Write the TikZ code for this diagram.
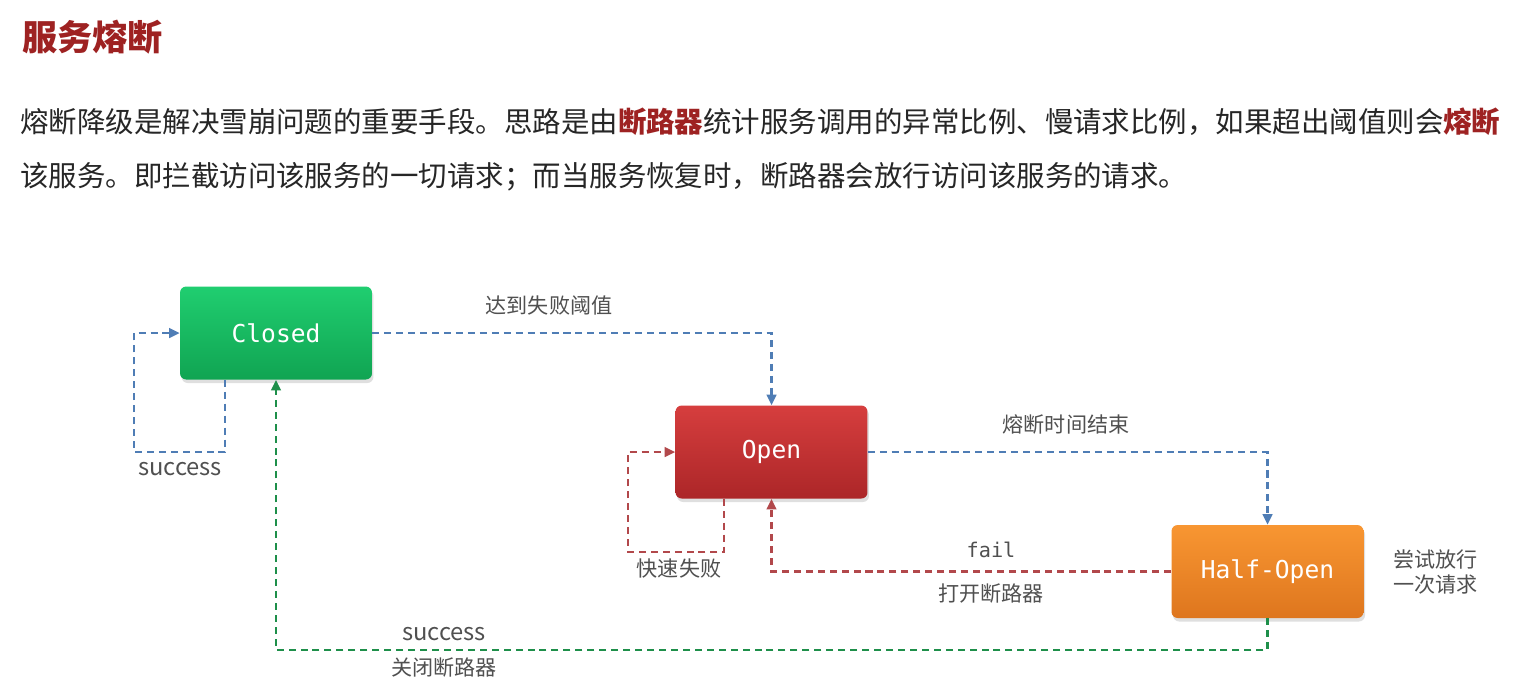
\documentclass[tikz,border=0pt]{standalone}
\usepackage{fontspec}
\setmainfont{Noto Sans CJK SC}
\setmonofont{DejaVu Sans Mono}
\usetikzlibrary{arrows.meta,shadows}

\definecolor{titlered}{RGB}{158,34,34}
\definecolor{bodytext}{RGB}{38,38,38}
\definecolor{labelgray}{RGB}{80,80,80}
\definecolor{linkblue}{RGB}{79,125,181}
\definecolor{linkred}{RGB}{178,72,75}
\definecolor{linkgreen}{RGB}{30,143,74}
\newcommand{\redword}[1]{{\bfseries\color{titlered}#1}}

\tikzset{link/.style={dash pattern=on 4pt off 2.8pt, line width=1.3pt, -{Triangle[length=6pt,width=5.5pt]}}}
\tikzset{bluelink/.style={link, draw=linkblue}}
\tikzset{redlink/.style={link, draw=linkred}}
\tikzset{greenlink/.style={link, draw=linkgreen}}
\tikzset{edgelabel/.style={text=labelgray, font=\fontsize{12}{14.7}\selectfont}}

\begin{document}
\begin{tikzpicture}[x=0.02cm, y=-0.02cm]
	\useasboundingbox[fill=white] (0,0) rectangle (1533,697);

	% Default action for each state
	\tikzstyle{state}=[rounded corners=3.5pt, minimum width=3.84cm, minimum height=1.86cm, inner sep=0pt,
		text=white, font=\ttfamily\fontsize{14}{16}\selectfont,
		drop shadow={opacity=0.25, shadow xshift=0.03cm, shadow yshift=-0.07cm}];

	% Heading and text
	\node[anchor=west, text=titlered, font=\fontsize{20}{22}\selectfont\bfseries] (title) at (16,37) {服务熔断};
	\node[anchor=west, inner sep=0pt, text=bodytext, font=\fontsize{16.2}{18}\selectfont] (line1) at (20,122)
		{熔断降级是解决雪崩问题的重要手段。思路是由\redword{断路器}统计服务调用的异常比例、慢请求比例，如果超出阈值则会\redword{熔断}};
	\node[anchor=west, inner sep=0pt, text=bodytext, font=\fontsize{16.2}{18}\selectfont] (line2) at (20,177)
		{该服务。即拦截访问该服务的一切请求；而当服务恢复时，断路器会放行访问该服务的请求。};

	% States
	\node[state, top color={rgb,255:red,32;green,206;blue,112}, bottom color={rgb,255:red,16;green,164;blue,82}] (closed) at (276,333) {Closed};
	\node[state, top color={rgb,255:red,214;green,62;blue,62}, bottom color={rgb,255:red,172;green,38;blue,40}] (open) at (771.5,452) {Open};
	\node[state, top color={rgb,255:red,248;green,150;blue,50}, bottom color={rgb,255:red,222;green,118;blue,30}] (halfopen) at (1267.5,571.5) {Half-Open};

	% Corners
	\coordinate (closed loop) at (225,452);		\coordinate (closed loop west) at (134,452);
	\coordinate (open loop) at (724,552);		\coordinate (open loop west) at (628,552);
	\coordinate (closing line) at (770,650);

	% Loops
	\draw[bluelink] (closed.south -| closed loop) -- (closed loop) -- (closed loop west) |- (closed.west);
	\draw[redlink] (open.south -| open loop) -- (open loop) -- (open loop west) |- (open.west);

	% Transitions
	\draw[bluelink] (closed.east) -| (open.north);
	\draw[bluelink] (open.east) -| (halfopen.north);
	\draw[redlink] (halfopen.west) -| (open.south);
	\draw[greenlink] (halfopen.south) |- (closing line) -| (closed.south);

	% Labels
	\node[edgelabel, font=\fontsize{13.5}{16}\selectfont] (closed loop label) at (180,469) {success};
	\node[edgelabel] (trip label) at (549,305) {达到失败阈值};
	\node[edgelabel] (open loop label) at (679,569) {快速失败};
	\node[edgelabel] (timeout label) at (1066,424) {熔断时间结束};
	\node[edgelabel, font=\ttfamily\fontsize{11.5}{14}\selectfont] (fail label) at (991,550) {fail};
	\node[edgelabel] (reopen label) at (991,594) {打开断路器};
	\node[edgelabel, font=\fontsize{13.5}{16}\selectfont] (success label) at (444,634) {success};
	\node[edgelabel] (close label) at (444,668) {关闭断路器};
	\node[edgelabel, anchor=west, align=left] (trial label) at (1387,572) {尝试放行\\一次请求};

\end{tikzpicture}
\end{document}
